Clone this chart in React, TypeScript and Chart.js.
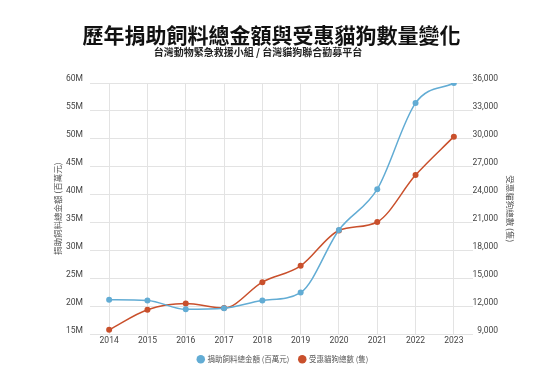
import React, { useEffect, useRef } from "react";
import { Chart, registerables } from "chart.js";

Chart.register(...registerables);

const years = ["2014", "2015", "2016", "2017", "2018", "2019", "2020", "2021", "2022", "2023"];
const donationMillions = [21.2, 21.1, 19.5, 19.7, 21.1, 22.5, 33.7, 41.0, 56.4, 60.0];
const animalsHelped = [9500, 11660, 12320, 11850, 14620, 16370, 20170, 21080, 26110, 30240];

const titleText = "歷年捐助飼料總金額與受惠貓狗數量變化";
const subtitleText = "台灣動物緊急救援小組 / 台灣貓狗聯合勸募平台";
const seriesNames = ["捐助飼料總金額 (百萬元)", "受惠貓狗總數 (隻)"];
const leftAxisTitle = "捐助飼料總金額 (百萬元)";
const rightAxisTitle = "受惠貓狗總數 (隻)";

const BLUE = "#62acd4";
const RED = "#c9502c";
const GRID = "#e3e3e3";
const TICK = "#444";
const CJK = "'Noto Sans CJK TC', 'Noto Sans', sans-serif";
const NUM = "Roboto, 'Noto Sans', sans-serif";

function shiftBox(box: any, center: number) {
  if (!box) return;
  const w = box.right - box.left;
  box.left = center - w / 2;
  box.right = center + w / 2;
}

const centerPlugin = {
  id: "centerBoxes",
  afterLayout(chart: any) {
    for (const b of chart.boxes) {
      if (b && b.options && b.options.text === titleText) shiftBox(b, 271.5);
      if (b && b.options && b.options.text === subtitleText) shiftBox(b, 258);
    }
    shiftBox(chart.legend, 283);
  },
};

export default function App() {
  const ref = useRef<HTMLCanvasElement | null>(null);

  useEffect(() => {
    if (!ref.current) return;
    const chart = new Chart(ref.current, {
      type: "line",
      plugins: [centerPlugin],
      data: {
        labels: years,
        datasets: [
          {
            label: seriesNames[0],
            data: donationMillions,
            yAxisID: "y",
            borderColor: BLUE,
            backgroundColor: BLUE,
            borderWidth: 1.5,
            pointRadius: 3,
            pointBorderWidth: 0,
            cubicInterpolationMode: "monotone",
          },
          {
            label: seriesNames[1],
            data: animalsHelped,
            yAxisID: "y1",
            borderColor: RED,
            backgroundColor: RED,
            borderWidth: 1.5,
            pointRadius: 3,
            pointBorderWidth: 0,
            cubicInterpolationMode: "monotone",
          },
        ],
      },
      options: {
        responsive: false,
        animation: false,
        devicePixelRatio: 1,
        layout: { padding: { left: 0, right: 41, top: 0, bottom: 7 } },
        plugins: {
          title: {
            display: true,
            text: titleText,
            color: "#111",
            font: { family: CJK, size: 21, weight: "bold", lineHeight: 1 },
            padding: { top: 25, bottom: 0 },
          },
          subtitle: {
            display: true,
            text: subtitleText,
            color: "#222",
            font: { family: CJK, size: 10, weight: "bold", lineHeight: 1 },
            padding: { top: 1, bottom: 26 },
          },
          legend: {
            position: "bottom",
            labels: {
              usePointStyle: true,
              pointStyle: "circle",
              boxWidth: 6,
              boxHeight: 6,
              padding: 10,
              color: "#555",
              font: { family: CJK, size: 7.5 },
            },
          },
          tooltip: { enabled: false },
        },
        scales: {
          x: {
            offset: true,
            grid: { color: GRID, offset: false, drawTicks: false },
            border: { display: false },
            ticks: { color: TICK, font: { family: NUM, size: 8.5 }, padding: 1, maxRotation: 0 },
            afterFit: (s: any) => {
              s.height = 11;
            },
          },
          y: {
            position: "left",
            min: 15,
            max: 60,
            grid: { color: GRID, drawTicks: false },
            border: { display: false },
            ticks: {
              stepSize: 5,
              color: TICK,
              font: { family: NUM, size: 8.5 },
              padding: 7,
              labelOffset: -4,
              callback: (v: any) => `${v}M`,
            },
            title: {
              display: true,
              text: leftAxisTitle,
              color: "#555",
              font: { family: CJK, size: 8.5, lineHeight: 1.2 },
              padding: { top: 52.9, bottom: 0 },
            },
            afterFit: (s: any) => {
              s.width = 90;
            },
          },
          y1: {
            position: "right",
            min: 9000,
            max: 36000,
            grid: { drawOnChartArea: false, drawTicks: false },
            border: { display: false },
            ticks: {
              stepSize: 3000,
              color: TICK,
              font: { family: NUM, size: 8.5 },
              padding: 2,
              labelOffset: -4,
              crossAlign: "far",
              callback: (v: any) => Number(v).toLocaleString("en-US"),
            },
            title: {
              display: true,
              text: rightAxisTitle,
              color: "#555",
              font: { family: CJK, size: 8.5, lineHeight: 1.2 },
              padding: { top: -17.1, bottom: 0 },
            },
            afterFit: (s: any) => {
              s.width = 25;
            },
          },
        },
      },
    });
    return () => chart.destroy();
  }, []);

  return (
    <div style={{ position: "fixed", left: 0, top: 0, width: 539, height: 380, background: "#fff" }}>
      <canvas ref={ref} width={539} height={380} style={{ display: "block" }} />
    </div>
  );
}
